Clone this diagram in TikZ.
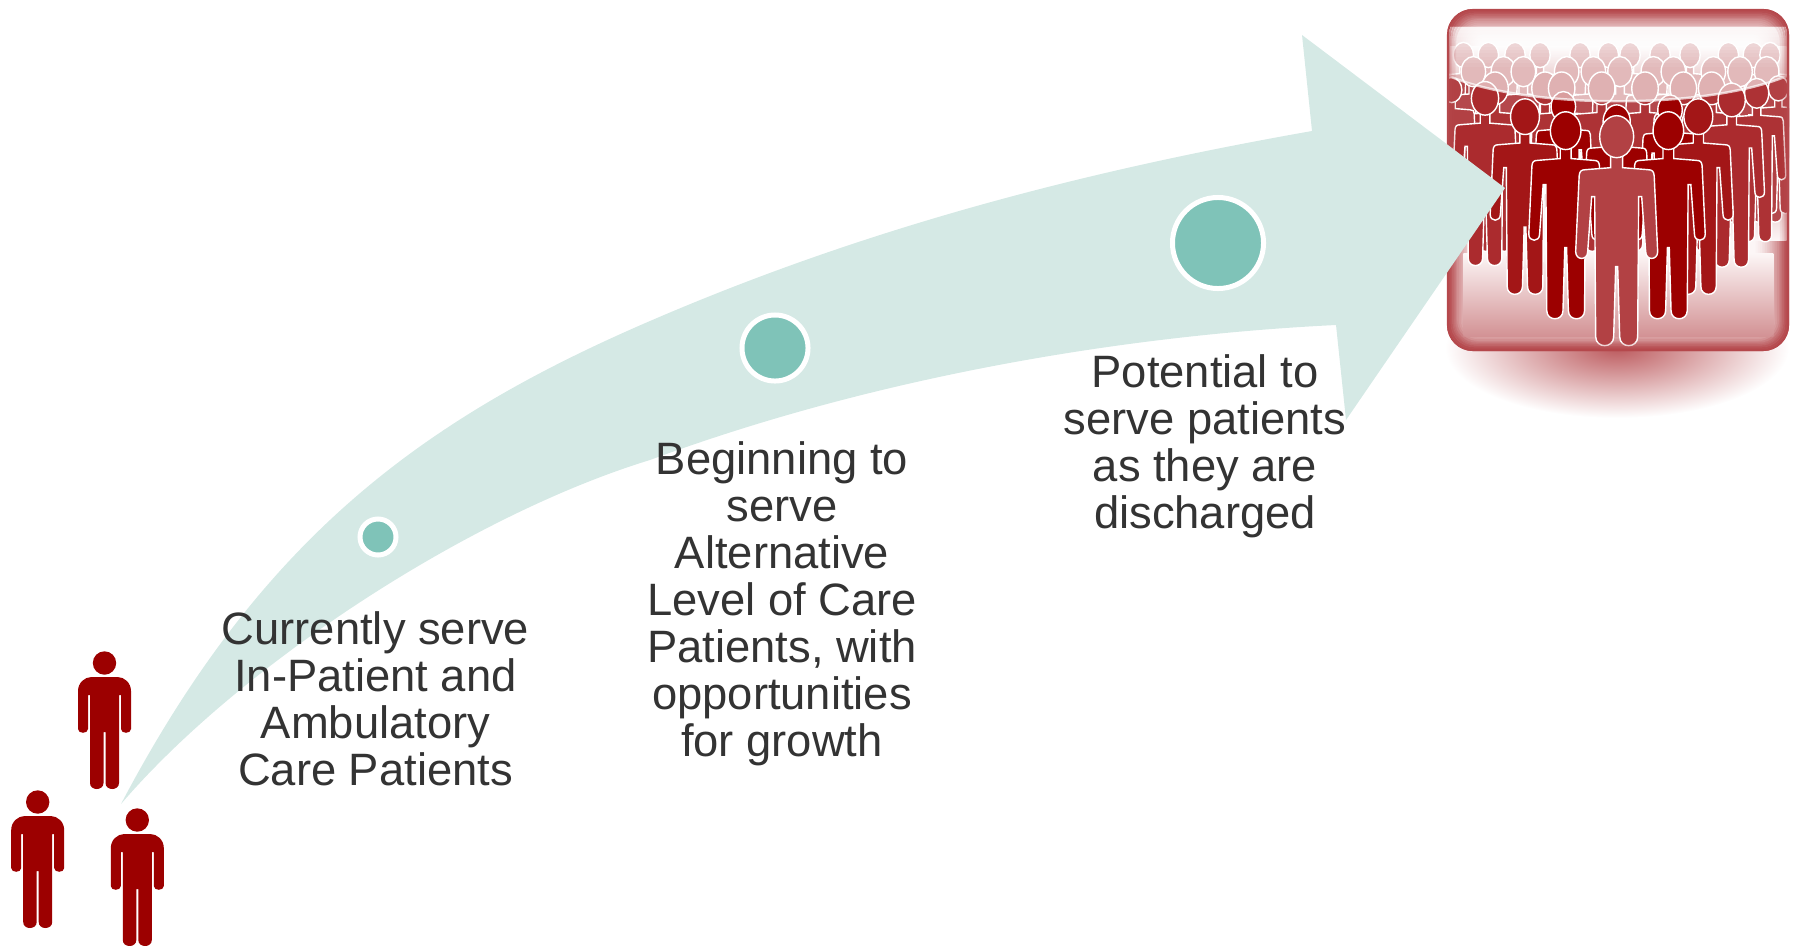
\documentclass[tikz,border=0pt]{standalone}
\usepackage{fontspec}
\setmainfont{Liberation Sans}
\definecolor{arrowfill}{HTML}{D5E9E5}
\definecolor{dotfill}{HTML}{7FC3B8}
\definecolor{inktext}{HTML}{333333}
\definecolor{manred}{HTML}{9C0000}
\definecolor{boxedge}{HTML}{B5484C}
\definecolor{boxcentre}{HTML}{FCF6F6}
\newcommand{\smallperson}[2]{%
  \begin{scope}[shift={(#1,#2)}]
    \fill[manred] (0,0) circle[radius=11.7];
    \fill[manred] (-26.5,28) .. controls (-26.5,20) and (-20,14) .. (-13,14) -- (13,14)
      .. controls (20,14) and (26.5,20) .. (26.5,28) -- (26.5,66)
      .. controls (26.5,71) and (16.5,71) .. (16.5,66) -- (16.5,32) -- (14.5,32) -- (14.5,120)
      .. controls (14.5,128) and (1,128) .. (1,120) -- (1,69) -- (-1,69) -- (-1,120)
      .. controls (-1,128) and (-14.5,128) .. (-14.5,120) -- (-14.5,32) -- (-16.5,32) -- (-16.5,66)
      .. controls (-16.5,71) and (-26.5,71) .. (-26.5,66) -- cycle;
  \end{scope}}
\newcommand{\crowdman}[4]{%
  \begin{scope}[shift={(#1,#2)},scale=3*#3]
    \filldraw[fill=#4,draw=white,line width=0.4pt] (-6,18) -- (-6,31) -- (-31,33)
      .. controls (-36,33) and (-37,35) .. (-37.5,39) -- (-41,115)
      .. controls (-41,124) and (-29,124) .. (-29,115) -- (-25,60) -- (-22,60) -- (-21,200)
      .. controls (-21,212) and (-3,212) .. (-3,200) -- (-1,130) -- (1,130) -- (3,200)
      .. controls (3,212) and (21,212) .. (21,200) -- (22,60) -- (25,60) -- (29,115)
      .. controls (29,124) and (41,124) .. (41,115) -- (37.5,39)
      .. controls (37,35) and (36,33) .. (31,33) -- (6,31) -- (6,18) -- cycle;
    \filldraw[fill=#4,draw=white,line width=0.4pt] (0,0) circle[x radius=17,y radius=21];
  \end{scope}}
\tikzset{
  stagedot/.style={circle,draw=white,fill=dotfill,line width=1.42pt,inner sep=0pt},
  stagetext/.style={text=inktext,align=center,font=\fontsize{12.9}{13.35}\selectfont,inner sep=0pt},
}
\begin{document}
\begin{tikzpicture}[x=0.01cm,y=-0.01cm]
\useasboundingbox (0,0) rectangle (1794,945);
% shadow under the icon
\shade[inner color=boxedge!90,outer color=white] (1617,348) circle[x radius=172,y radius=70];
% crowd icon
\begin{scope}
  \foreach \i in {0,...,20}{
    \pgfmathsetmacro{\p}{100*(1-\i/20)^1.5}
    \pgfmathsetmacro{\ins}{\i*1.7}
    \pgfmathsetmacro{\rr}{max(26-\i*1.0,5)*0.01}
    \fill[boxedge!\p!boxcentre,rounded corners=\rr cm]
      (1447+\ins,9+\ins) rectangle (1789-\ins,351-\ins);
  }
  \clip[rounded corners=0.26cm] (1447,9) rectangle (1789,351);
  \begin{scope}[shift={(1420,0)},scale=1/3]
    \shade[top color=boxcentre,bottom color=boxedge!60] (130,760) rectangle (1060,1010);
    \shade[top color=boxcentre,bottom color=boxedge] (90,140) rectangle (1100,280);
    \shade[top color=boxedge,bottom color=boxcentre] (90,280) rectangle (1100,720);
    % far rows
    \foreach \x in {130,205,285,360,480,565,630,720,810,925,1000,1050}{
      \crowdman{\x}{165}{.6}{boxedge}}
    \foreach \x in {160,250,310,440,520,600,700,760,880,960,1040}{
      \crowdman{\x}{215}{.72}{boxedge}}
    \foreach \x in {225,375,425,545,675,790,875}{
      \crowdman{\x}{265}{.78}{boxedge!70!manred}}
    % standing crowd, back to front
    \crowdman{1075}{265}{.6}{boxedge!90!manred}
    \crowdman{95}{270}{.6}{boxedge!90!manred}
    \crowdman{1010}{280}{.71}{boxedge!70!manred}
    \crowdman{430}{320}{.72}{manred}
    \crowdman{750}{330}{.72}{manred}
    \crowdman{590}{365}{.8}{manred}
    \crowdman{195}{295}{.8}{boxedge!60!manred}
    \crowdman{935}{300}{.8}{boxedge!60!manred}
    \crowdman{315}{350}{.85}{boxedge!30!manred}
    \crowdman{835}{350}{.85}{boxedge!30!manred}
    \crowdman{437}{392}{.9}{manred}
    \crowdman{745}{392}{.9}{manred}
    \crowdman{590}{410}{1}{boxedge!90!manred}
    % gloss
    \fill[white,opacity=.62] (80,225) .. controls (300,325) and (850,335) .. (1108,225) -- (1108,80) -- (80,80) -- cycle;
    \foreach \i in {0,...,11}{
      \pgfmathsetmacro{\op}{0.7*(1-\i/12)}
      \fill[white,opacity=\op] (80,80+\i*10) rectangle (1108,90+\i*10);
    }
    \draw[white,opacity=.7,line width=0.7pt] (80,225) .. controls (300,325) and (850,335) .. (1108,225);
  \end{scope}
\end{scope}
% inner glow of the rim, over the crowd
\foreach \i/\o in {0/100,1/55,2/35,3/20,4/10}{
  \pgfmathsetmacro{\ins}{\i*1.8+0.9}
  \draw[boxedge,opacity=\o/100,line width=0.55pt,rounded corners=0.25cm]
    (1447+\ins,9+\ins) rectangle (1789-\ins,351-\ins);
}
% sweeping arrow
\fill[arrowfill] (121,804) .. controls (260,540) and (420,420) .. (650,321)
  .. controls (870,226) and (1090,170) .. (1312,131)
  -- (1302,35) -- (1505,188) -- (1346,420) -- (1336,325)
  .. controls (1130,335) and (880,375) .. (650,460)
  .. controls (470,515) and (240,665) .. (121,804) -- cycle;
% stage markers
\node[stagedot,minimum size=0.36cm] (dotone) at (378,537) {};
\node[stagedot,minimum size=0.66cm] (dottwo) at (775,348) {};
\node[stagedot,minimum size=0.91cm] (dotthree) at (1218,243) {};
% stage labels
\node[stagetext] (labelone) at (375.5,699) {Currently serve\\In-Patient and\\Ambulatory\\Care Patients};
\node[stagetext] (labeltwo) at (782,604) {Beginning to\\serve\\Alternative\\Level of Care\\Patients, with\\opportunities\\for growth};
\node[stagetext] (labelthree) at (1205,446.5) {Potential to\\serve patients\\as they are\\discharged};
% three people
\smallperson{104.5}{663}
\smallperson{37.7}{802}
\smallperson{137.3}{820}
\end{tikzpicture}
\end{document}
